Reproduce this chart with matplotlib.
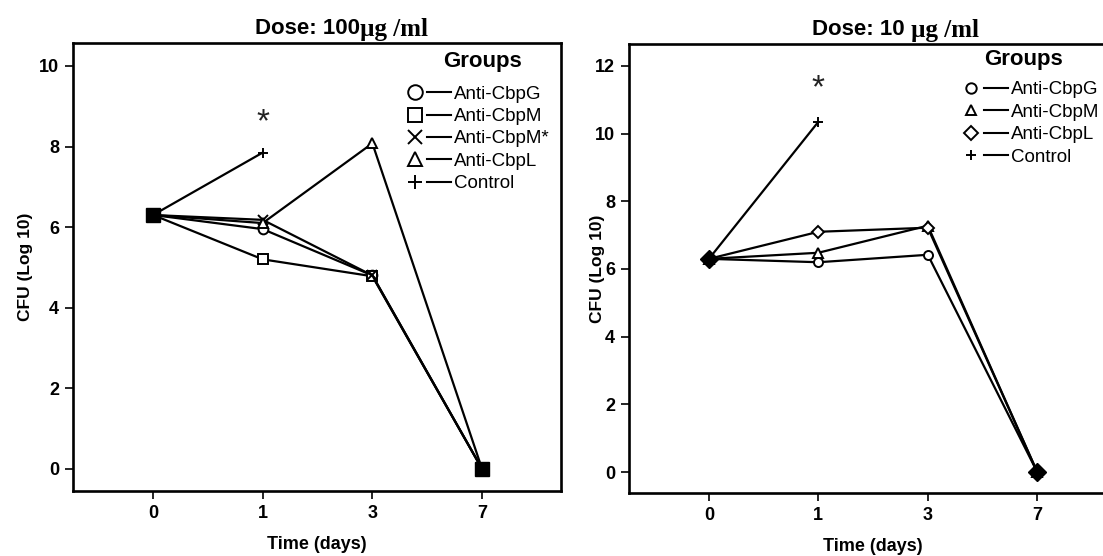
import numpy as np
import matplotlib
matplotlib.use("Agg")
import matplotlib.pyplot as plt
from matplotlib.lines import Line2D
from matplotlib.legend_handler import HandlerTuple

plt.rcParams["font.family"] = ["Liberation Sans", "DejaVu Sans"]

days = ["0", "1", "3", "7"]
nan = np.nan

# 100 ug/ml dose
groups_100 = ["Anti-CbpG", "Anti-CbpM", "Anti-CbpM*", "Anti-CbpL", "Control"]
markers_100 = ["o", "s", "x", "^", "+"]
cfu_100_cbpg = [6.3, 5.95, 4.8, 0.0]
cfu_100_cbpm = [6.3, 5.2, 4.78, 0.0]
cfu_100_cbpm_star = [6.3, 6.18, 4.8, 0.0]
cfu_100_cbpl = [6.3, 6.1, 8.08, 0.0]
cfu_100_control = [6.3, 7.85, nan, nan]

# 10 ug/ml dose
groups_10 = ["Anti-CbpG", "Anti-CbpM", "Anti-CbpL", "Control"]
markers_10 = ["o", "^", "D", "+"]
cfu_10_cbpg = [6.3, 6.2, 6.42, 0.0]
cfu_10_cbpm = [6.3, 6.48, 7.28, 0.0]
cfu_10_cbpl = [6.3, 7.1, 7.22, 0.0]
cfu_10_control = [6.3, 10.35, nan, nan]

# significance star heights
star_100 = 8.58
star_10 = 11.32

fig = plt.figure(figsize=(11.03, 5.56), dpi=100)
ax1 = fig.add_axes([0.0662, 0.1169, 0.4424, 0.8058])
ax2 = fig.add_axes([0.5703, 0.1133, 0.4415, 0.8076])


def draw_panel(ax, series, names, marks, shared_marker, msize, leg_ms, star_y,
               ylim, yticks, leg_anchor, groups_xy, ylabel_pad):
    x = np.arange(len(days))
    handles = []
    for vals, name, m in zip(series, names, marks):
        ax.plot(x, vals, color="black", lw=1.6, marker=m, ms=msize,
                mfc="white" if m not in ("x", "+") else "black",
                mec="black", mew=1.4, zorder=3)
        mk = Line2D([], [], ls="none", marker=m, ms=leg_ms, mfc="white",
                    mec="black", mew=1.4)
        ln = Line2D([], [], color="black", lw=1.5)
        handles.append((mk, ln))

    # points where every group has the same count
    stack = np.array(series, dtype=float)
    for i in x:
        col = stack[:, i][~np.isnan(stack[:, i])]
        if len(col) and np.allclose(col, col[0]) and len(col) >= len(series) - 1:
            ax.plot(i, col[0], ls="none", marker=shared_marker, ms=msize + 2.5,
                    color="black", zorder=5)

    ax.text(1, star_y, "*", ha="center", va="center", fontsize=24,
            fontweight="light", color="#222222")

    ax.set_xlim(-0.73, 3.72)
    ax.set_ylim(*ylim)
    ax.set_xticks(x)
    ax.set_xticklabels(days)
    ax.set_yticks(yticks)
    for s in ax.spines.values():
        s.set_linewidth(1.9)
    ax.tick_params(axis="both", direction="out", length=6, width=1.2,
                   labelsize=13, pad=4)
    for lab in ax.get_xticklabels() + ax.get_yticklabels():
        lab.set_fontweight("bold")
    ax.set_xlabel("Time (days)", fontsize=13, fontweight="bold", labelpad=10)
    ax.set_ylabel("CFU (Log 10)", fontsize=12.5, fontweight="bold", labelpad=ylabel_pad)

    leg = ax.legend(handles, names, handler_map={tuple: HandlerTuple(ndivide=None, pad=0)},
                    frameon=False, loc="upper left",
                    bbox_to_anchor=leg_anchor, borderaxespad=0.2,
                    handlelength=2.6, handletextpad=0.15, labelspacing=0.28,
                    fontsize=13.5)
    leg.set_clip_on(False)
    ax.text(groups_xy[0], groups_xy[1], "Groups", transform=ax.transAxes,
            ha="center", va="center", fontsize=16, fontweight="bold")
    return leg


draw_panel(ax1, [cfu_100_cbpg, cfu_100_cbpm, cfu_100_cbpm_star, cfu_100_cbpl, cfu_100_control],
           groups_100, markers_100, "s", 7, 10.5, star_100, (-0.55, 10.57),
           [0, 2, 4, 6, 8, 10], (0.652, 0.930), (0.840, 0.958), 4)
draw_panel(ax2, [cfu_10_cbpg, cfu_10_cbpm, cfu_10_cbpl, cfu_10_control],
           groups_10, markers_10, "D", 6.5, 7.5, star_10, (-0.62, 12.65),
           [0, 2, 4, 6, 8, 10, 12], (0.655, 0.942), (0.809, 0.966), -7)

# titles: sans "Dose:" part followed by a serif unit
for ax, num, start in [(ax1, "Dose: 100", 0.373), (ax2, "Dose: 10 ", 0.376)]:
    t1 = ax.text(start, 1.033, num, transform=ax.transAxes, ha="left", va="center",
                 fontsize=16, fontweight="bold")
    ax.annotate("\u00b5g /ml", xy=(1, 0.45), xycoords=t1, ha="left", va="center",
                fontsize=18, fontweight="bold", family="Liberation Serif")

fig.savefig("out.png", dpi=100)
